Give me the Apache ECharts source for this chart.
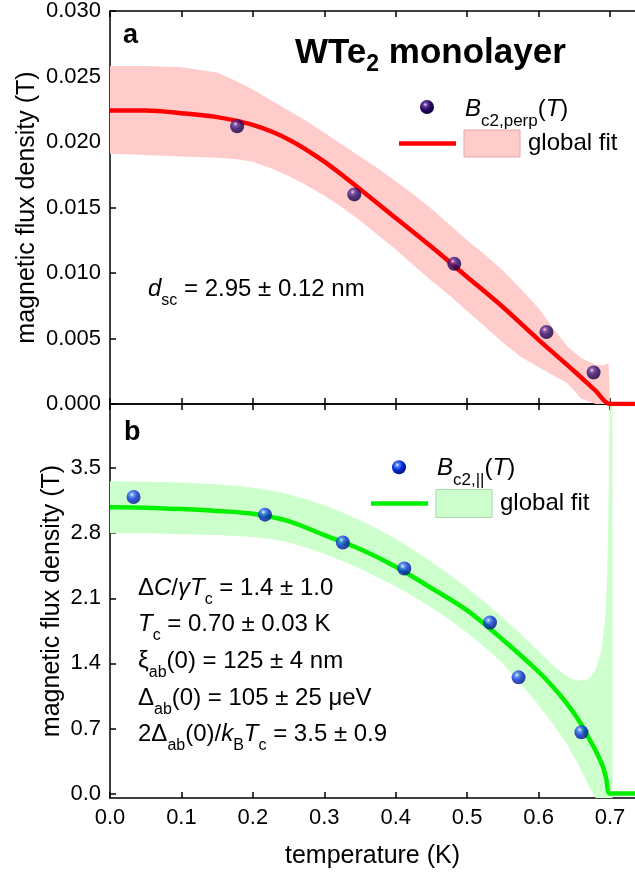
<!DOCTYPE html>
<html><head><meta charset="utf-8">
<script src="https://cdn.jsdelivr.net/npm/echarts@6/dist/echarts.min.js"></script>
<style>html,body{margin:0;padding:0;background:#fff}#c{width:635px;height:874px}</style>
</head><body><div id="c"></div>
<script>
// ---------------- data ----------------
const xTicks = [0.0, 0.1, 0.2, 0.3, 0.4, 0.5, 0.6, 0.7];
const yTicksPerp = [0.000, 0.005, 0.010, 0.015, 0.020, 0.025, 0.030];
const yTicksPar = [0.0, 0.7, 1.4, 2.1, 2.8, 3.5];

// panel a : B_c2,perp(T)
const tempPerp = [0.178, 0.342, 0.482, 0.611, 0.677];
const bPerp = [0.0212, 0.0160, 0.0107, 0.0055, 0.0024];

const fitPerpT = [0, 0.05, 0.1, 0.15, 0.2, 0.25, 0.3, 0.35, 0.4, 0.45, 0.5, 0.55, 0.6, 0.65, 0.68, 0.7, 0.735];
const fitPerpB = [0.0224, 0.0224, 0.0222, 0.0219, 0.0213, 0.0202, 0.0185, 0.0164, 0.0142, 0.0120, 0.0097, 0.0074, 0.0049, 0.0025, 0.0010, 0, 0];

const bandPerpT = [0, 0.05, 0.1, 0.15, 0.175, 0.2, 0.225, 0.25, 0.275, 0.3, 0.325, 0.35, 0.375, 0.4, 0.425, 0.45, 0.475, 0.5, 0.525, 0.55, 0.575, 0.6, 0.62, 0.64, 0.66, 0.68, 0.69, 0.698, 0.7];
const bandPerpHi = [0.0258, 0.0258, 0.0257, 0.0253, 0.0247, 0.0240, 0.0232, 0.0224, 0.0216, 0.0207, 0.0198, 0.0189, 0.0180, 0.0170, 0.0160, 0.0149, 0.0137, 0.0125, 0.0114, 0.0102, 0.0088, 0.0073, 0.0058, 0.0044, 0.0035, 0.0030, 0.00295, 0.0031, 0];
const bandPerpLo = [0.0191, 0.0190, 0.0189, 0.0188, 0.0187, 0.0185, 0.0180, 0.0174, 0.0167, 0.0159, 0.0150, 0.0140, 0.0129, 0.0118, 0.0106, 0.0094, 0.0083, 0.0071, 0.0059, 0.0047, 0.0036, 0.0028, 0.0022, 0.0016, 0.0004, 0, 0, 0, 0];

// panel b : B_c2,||(T)
const tempPar = [0.033, 0.217, 0.326, 0.412, 0.532, 0.572, 0.660];
const bPar = [3.19, 3.00, 2.70, 2.42, 1.84, 1.25, 0.66];

const fitParT = [0, 0.05, 0.1, 0.15, 0.2, 0.25, 0.3, 0.35, 0.4, 0.45, 0.5, 0.55, 0.6, 0.63, 0.65, 0.66, 0.67, 0.68, 0.69, 0.695, 0.7, 0.735];
const fitParB = [3.08, 3.075, 3.06, 3.04, 3.01, 2.93, 2.78, 2.63, 2.44, 2.21, 1.97, 1.655, 1.31, 1.06, 0.86, 0.74, 0.60, 0.46, 0.29, 0.15, 0, 0];

const bandParT = [0, 0.05, 0.1, 0.15, 0.175, 0.2, 0.225, 0.25, 0.275, 0.3, 0.325, 0.35, 0.375, 0.4, 0.425, 0.45, 0.475, 0.5, 0.525, 0.55, 0.575, 0.6, 0.62, 0.64, 0.655, 0.67, 0.68, 0.688, 0.693, 0.696, 0.698, 0.699, 0.7, 0.7035];
const bandParHi = [3.36, 3.355, 3.345, 3.325, 3.31, 3.29, 3.26, 3.22, 3.165, 3.10, 3.025, 2.94, 2.845, 2.74, 2.62, 2.49, 2.355, 2.21, 2.055, 1.89, 1.715, 1.53, 1.38, 1.26, 1.21, 1.23, 1.33, 1.55, 1.85, 2.3, 3.1, 3.7, 4.19, 4.19];
const bandParLo = [2.80, 2.80, 2.79, 2.78, 2.77, 2.76, 2.74, 2.70, 2.645, 2.58, 2.505, 2.42, 2.325, 2.23, 2.12, 2.00, 1.87, 1.73, 1.57, 1.40, 1.18, 0.95, 0.75, 0.53, 0.32, 0.09, -0.048, -0.048, -0.048, -0.048, -0.048, -0.048, -0.048, -0.048];

// ---------------- styling ----------------
const FF = "'Liberation Sans', Arial, sans-serif";
const chart = echarts.init(document.getElementById('c'), null, {renderer: 'canvas'});

function ball(c0, c1, c2, c3) {
  return new echarts.graphic.RadialGradient(0.38, 0.33, 0.68, [
    {offset: 0, color: c0}, {offset: 0.22, color: c1}, {offset: 0.55, color: c2}, {offset: 1, color: c3}
  ]);
}
const ballPerp = ball('#f2dcf2', '#6a3a98', '#280a68', '#10003a');
const ballPar = ball('#eaf5ff', '#4a7cf8', '#0a2ad8', '#001580');

const RED = '#ff0000', PINK = '#ffcccc', GREEN = '#00f000', LGREEN = '#ccffcc';

function xAx(grid, pos, labels) {
  const a = {
    gridIndex: grid, type: 'value', min: 0, max: 0.735, position: pos,
    axisLine: {show: true, onZero: false, lineStyle: {color: '#000', width: 1.5}},
    axisTick: {show: true, inside: true, length: 6, customValues: xTicks, lineStyle: {color: '#000', width: 1.5}},
    axisLabel: {show: false},
    splitLine: {show: false}
  };
  if (labels) {
    a.axisLabel = {show: true, customValues: xTicks, formatter: v => v.toFixed(1), fontSize: 22, fontFamily: FF, color: '#000', margin: 9};
    a.name = 'temperature (K)';
    a.nameLocation = 'middle';
    a.nameGap = 46;
    a.nameMoveOverlap = false;
    a.nameTextStyle = {fontSize: 25, fontFamily: FF, color: '#000'};
  }
  return a;
}
function yAx(grid, min, max, ticks, dec, gap) {
  return {
    gridIndex: grid, type: 'value', min: min, max: max, position: 'left',
    axisLine: {show: true, onZero: false, lineStyle: {color: '#000', width: 1.5}},
    axisTick: {show: true, inside: true, length: 6, customValues: ticks, lineStyle: {color: '#000', width: 1.5}},
    axisLabel: {show: true, customValues: ticks, formatter: v => v.toFixed(dec), fontSize: 22, fontFamily: FF, color: '#000', margin: 9},
    splitLine: {show: false},
    name: 'magnetic flux density (T)', nameLocation: 'middle', nameGap: gap, nameMoveOverlap: false,
    nameTextStyle: {fontSize: 25, fontFamily: FF, color: '#000'}
  };
}

function rich(S, sub, P) {
  const L = Math.round(S * 1.2);
  return {
    n: {fontSize: S, fontFamily: FF, lineHeight: L, fill: '#000'},
    i: {fontSize: S, fontFamily: FF, fontStyle: 'italic', lineHeight: L, fill: '#000'},
    b: {fontSize: S, fontFamily: FF, fontWeight: 'bold', lineHeight: L, fill: '#000'},
    s: {fontSize: sub, fontFamily: FF, lineHeight: 4, verticalAlign: 'top', padding: [P, 0, 0, 0], fill: '#000'},
    bs: {fontSize: sub, fontFamily: FF, fontWeight: 'bold', lineHeight: 4, verticalAlign: 'top', padding: [P, 0, 0, 0], fill: '#000'}
  };
}
function txt(x, y, text, r) {
  return {type: 'text', x: x, y: y, z: 100, silent: true,
    style: {text: text, rich: r, fontSize: 24, fontFamily: FF, fill: '#000', align: 'left', verticalAlign: 'top'}};
}
const R24 = rich(24, 16, 18);
const RLeg = rich(24, 17, 18);
const RTitle = rich(35, 23, 21);
const RLab = rich(27, 18, 18);

const graphics = [
  txt(295, 32, '{b|WTe}{bs|2}{b| monolayer}', RTitle),
  txt(123, 19.5, '{b|a}', RLab),
  txt(124, 416.5, '{b|b}', RLab),
  txt(148, 275, '{i|d}{s|sc}{n| = 2.95 ± 0.12 nm}', R24),
  txt(138, 574, '{n|Δ}{i|C}{n|/}{i|γT}{s|c}{n| = 1.4 ± 1.0}', R24),
  txt(138, 610, '{i|T}{s|c}{n| = 0.70 ± 0.03 K}', R24),
  txt(138, 647, '{n|ξ}{s|ab}{n|(0) = 125 ± 4 nm}', R24),
  txt(138, 684, '{n|Δ}{s|ab}{n|(0) = 105 ± 25 μeV}', R24),
  txt(138, 720, '{n|2Δ}{s|ab}{n|(0)/}{i|k}{s|B}{i|T}{s|c}{n| = 3.5 ± 0.9}', R24),
  // legend panel a
  {type: 'circle', z: 100, shape: {cx: 427, cy: 107, r: 7}, style: {fill: ballPerp}},
  txt(465, 95, '{i|B}{s|c2,perp}{n|(}{i|T}{n|)}', RLeg),
  {type: 'line', z: 100, shape: {x1: 399, y1: 143.5, x2: 456, y2: 143.5}, style: {stroke: RED, lineWidth: 4.5}},
  {type: 'rect', z: 100, shape: {x: 464, y: 130, width: 56, height: 27}, style: {fill: PINK, stroke: '#e6a8a8', lineWidth: 1}},
  txt(528, 129, '{n|global fit}', RLeg),
  // legend panel b
  {type: 'circle', z: 100, shape: {cx: 399, cy: 467.3, r: 7}, style: {fill: ballPar}},
  txt(437, 453.5, '{i|B}{s|c2,||}{n|(}{i|T}{n|)}', RLeg),
  {type: 'line', z: 100, shape: {x1: 371, y1: 503.5, x2: 428, y2: 503.5}, style: {stroke: GREEN, lineWidth: 4.5}},
  {type: 'rect', z: 100, shape: {x: 436, y: 489.5, width: 56, height: 28}, style: {fill: LGREEN, stroke: '#a8d8a8', lineWidth: 1}},
  txt(500, 489, '{n|global fit}', RLeg)
];

function pairs(xs, ys) { return xs.map((x, i) => [x, ys[i]]); }

// confidence band: one polygon, upper edge forward then lower edge backward, through the axes' scales
function band(xi, yi, T, hi, lo, color) {
  return {
    type: 'custom', xAxisIndex: xi, yAxisIndex: yi, silent: true, z: 1,
    data: T.map((t, i) => [t, hi[i], lo[i]]),
    encode: {x: 0, y: [1, 2]},
    renderItem: function (params, api) {
      if (params.dataIndex !== 0) return;
      const up = [], dn = [];
      for (let k = 0; k < T.length; k++) {
        up.push(api.coord([api.value(0, k), api.value(1, k)]));
        dn.push(api.coord([api.value(0, k), api.value(2, k)]));
      }
      return {type: 'polygon', shape: {points: up.concat(dn.reverse())}, style: {fill: color}};
    }
  };
}

const option = {
  animation: false,
  backgroundColor: '#fff',
  grid: [
    {left: 110, top: 10, width: 525, height: 394},
    {left: 110, top: 404, width: 525, height: 394}
  ],
  xAxis: [xAx(0, 'bottom', false), xAx(0, 'top', false), xAx(1, 'bottom', true), xAx(1, 'top', false)],
  yAxis: [yAx(0, 0, 0.03, yTicksPerp, 3, 70), yAx(1, -0.048, 4.19, yTicksPar, 1, 45)],
  graphic: graphics,
  series: [
    band(0, 0, bandPerpT, bandPerpHi, bandPerpLo, PINK),
    {type: 'line', xAxisIndex: 0, yAxisIndex: 0, data: pairs(fitPerpT, fitPerpB), symbol: 'none', smooth: 0.3,
      lineStyle: {color: RED, width: 4.5}, silent: true, z: 3},
    {type: 'scatter', xAxisIndex: 0, yAxisIndex: 0, data: pairs(tempPerp, bPerp), symbolSize: 14,
      itemStyle: {color: ballPerp}, z: 5},

    band(2, 1, bandParT, bandParHi, bandParLo, LGREEN),
    {type: 'line', xAxisIndex: 2, yAxisIndex: 1, data: pairs(fitParT, fitParB), symbol: 'none', smooth: 0.3,
      lineStyle: {color: GREEN, width: 4.5}, silent: true, z: 3},
    {type: 'scatter', xAxisIndex: 2, yAxisIndex: 1, data: pairs(tempPar, bPar), symbolSize: 14,
      itemStyle: {color: ballPar}, z: 5}
  ]
};
chart.setOption(option);
</script>
</body></html>
